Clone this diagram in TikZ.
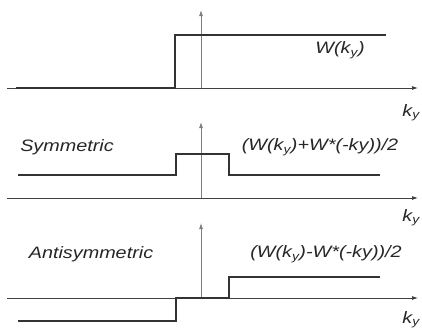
\documentclass[tikz,border=0pt]{standalone}
\usepackage{fontspec}
\setmainfont{Liberation Sans}[FakeStretch=1.2]
\usetikzlibrary{arrows.meta,positioning}

\begin{document}
\begin{tikzpicture}[x=1pt,y=-1pt,
    axis/.style={draw=black!75,line width=0.8pt,-{Latex[length=6pt,width=4pt]}},
    vaxis/.style={draw=black!50,line width=0.8pt,-{Latex[length=6pt,width=4pt]}},
    signal/.style={draw=black!80,line width=1.8pt},
    lbl/.style={font=\fontsize{16.5}{20}\selectfont\itshape,text=black!85,inner sep=0pt}]
  \useasboundingbox (0,0) rectangle (422,327);
  % axes of the three panels
  \foreach \n/\y/\t/\d in {a/88/10/16,b/198/122/11,c/298/223/13} {
    \coordinate (\n l) at (7,\y);
    \coordinate (\n r) at (418,\y);
    \coordinate (\n o) at (201,\y);
    \coordinate (\n t) at (201,\t);
    \draw[axis] (\n l) -- (\n r);
    \draw[vaxis] (\n o) -- (\n t);
    \node[lbl,below left=\d pt and -2pt of \n r] (\n k) {k\textsubscript{y}};
  }
  % W(ky)
  \draw[signal] (16,88) -- (175,88) -- (175,35) -- (386,35);
  \node[lbl] (wa) at (340,50) {W(k\textsubscript{y})};
  % symmetric part
  \draw[signal] (18,175) -- (176,175) -- (176,154) -- (229,154) -- (229,175) -- (380,175);
  \node[lbl] (sym) at (67,147) {Symmetric};
  \node[lbl] (wb) at (320,147) {(W(k\textsubscript{y})+W*(-ky))/2};
  % antisymmetric part
  \draw[signal] (18,321) -- (176,321) -- (176,298) -- (229,298) -- (229,277) -- (380,277);
  \node[lbl] (anti) at (91,254) {Antisymmetric};
  \node[lbl] (wc) at (326,254) {(W(k\textsubscript{y})-W*(-ky))/2};
\end{tikzpicture}
\end{document}
